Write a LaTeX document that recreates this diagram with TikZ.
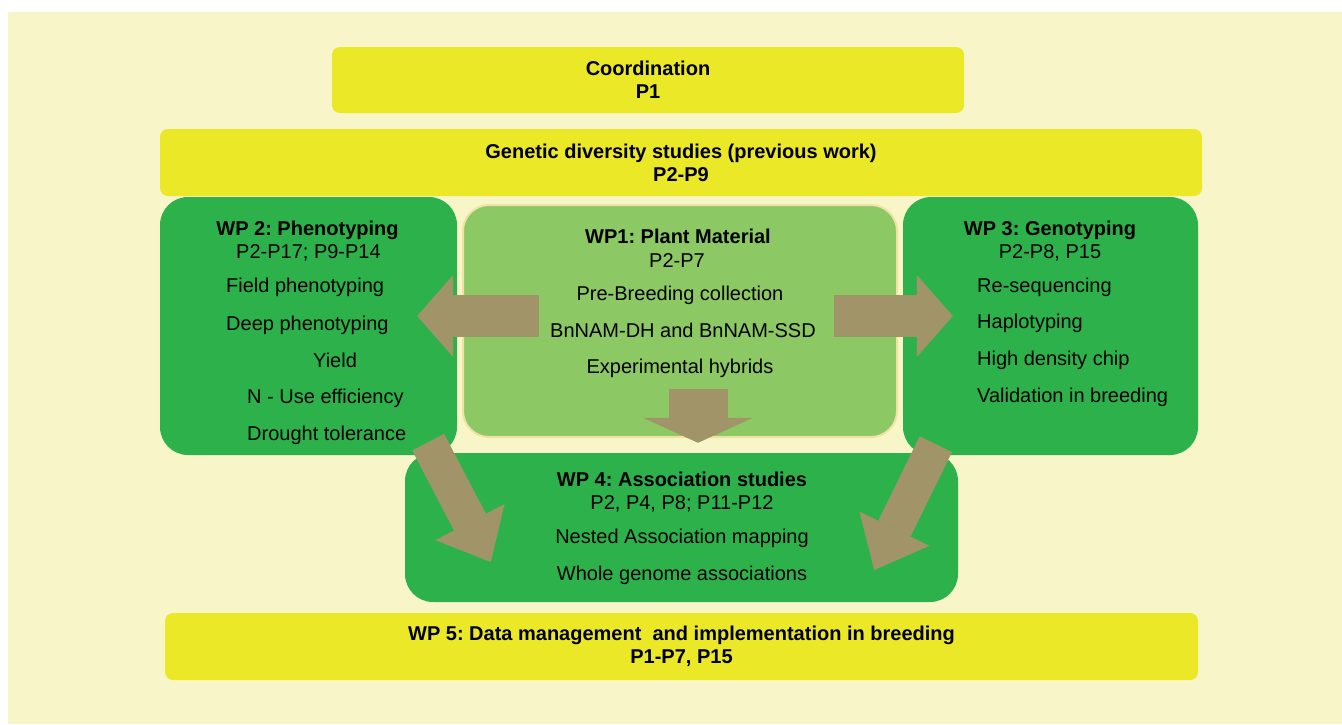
\documentclass[tikz,border=0pt]{standalone}
\usepackage{fontspec}
\setmainfont{Liberation Sans}
\usetikzlibrary{arrows.meta, positioning}
\definecolor{cream}{HTML}{F8F6C8}
\definecolor{wpyellow}{HTML}{EBE827}
\definecolor{wpgreen}{HTML}{2DB24B}
\definecolor{wplight}{HTML}{8CC864}
\definecolor{wpedge}{HTML}{F0E2A4}
\definecolor{khaki}{HTML}{A19469}
\newcommand{\wpsize}{\fontsize{20}{23}\selectfont}
\frenchspacing

\begin{document}
\begin{tikzpicture}[x=1pt, y=-1pt,
		ybox/.style={rectangle, fill=wpyellow, rounded corners=8pt, align=center,
			font=\wpsize\bfseries, inner sep=0pt},
		wpbox/.style={rectangle, fill=wpgreen, rounded corners=28pt, inner sep=0pt},
		matbox/.style={rectangle, fill=wplight, draw=wpedge, line width=2pt,
			rounded corners=26pt, inner sep=0pt},
		txt/.style={anchor=base, inner sep=0pt, font=\wpsize},
		hd/.style={txt, font=\wpsize\bfseries},
		item/.style={txt, anchor=base west},
		flow/.style n args={3}{draw=khaki, line width=#1,
			-{Triangle[width=#2, length=#3, line width=0pt]}}
	]
	\useasboundingbox (0,0) rectangle (1342,724);
	\fill[white] (0,0) rectangle (1342,724);
	\fill[cream] (8,12) rectangle (1342,724);

	\node[ybox, minimum width=632pt, minimum height=66pt] (coord) at (648,80) {Coordination\\P1};
	\node[ybox, minimum width=1042pt, minimum height=67pt] (gen) at (681,162.5)
		{Genetic diversity studies (previous work)\\P2-P9};
	\node[wpbox, minimum width=297pt, minimum height=258pt] (wp2) at (308.5,326) {};
	\node[wpbox, minimum width=295pt, minimum height=258pt] (wp3) at (1050.5,326) {};
	\node[wpbox, minimum width=553pt, minimum height=149pt] (wp4) at (681.5,527.5) {};
	\node[matbox, minimum width=434pt, minimum height=232pt] (wp1) at (680,321) {};
	\node[ybox, minimum width=1033pt, minimum height=67pt] (wp5) at (681.5,646.5)
		{WP 5: Data management\ \ and implementation in breeding\\P1-P7, P15};

	% WP 2
	\node[hd] (wp2t) at (307.5,235) {WP 2: Phenotyping};
	\node[txt] (wp2p) at (308.5,258) {P2-P17; P9-P14};
	\node[item] (field) at (226,292) {Field phenotyping};
	\node[item] (deep) at (226,330) {Deep phenotyping};
	\node[item] (yield) at (313,367) {Yield};
	\node[item] (nuse) at (247,403) {N - Use efficiency};
	\node[item] (drought) at (247,440) {Drought tolerance};

	% WP1
	\node[hd] (wp1t) at (678,243) {WP1: Plant Material};
	\node[txt] (wp1p) at (677,267) {P2-P7};
	\node[txt] (prebr) at (680,300) {Pre-Breeding collection};
	\node[txt] (bnnam) at (683,337) {BnNAM-DH and BnNAM-SSD};
	\node[txt] (hybr) at (680,373) {Experimental hybrids};

	% WP 3
	\node[hd] (wp3t) at (1050,235) {WP 3: Genotyping};
	\node[txt] (wp3p) at (1050,258) {P2-P8, P15};
	\node[item] (reseq) at (977,292) {Re-sequencing};
	\node[item] (haplo) at (977,328) {Haplotyping};
	\node[item] (chip) at (977,365) {High density chip};
	\node[item] (valid) at (977,402) {Validation in breeding};

	% WP 4
	\node[hd] (wp4t) at (682,486) {WP 4: Association studies};
	\node[txt] (wp4p) at (682,509) {P2, P4, P8; P11-P12};
	\node[txt] (nam) at (682,543) {Nested Association mapping};
	\node[txt] (whole) at (682,580) {Whole genome associations};

	% block arrows
	\draw[flow={42pt}{82pt}{36pt}] ([shift={(77,-5)}]wp1.west) -- ([shift={(-40,-10)}]wp2.east);
	\draw[flow={42pt}{82pt}{36pt}] ([shift={(-64,-5)}]wp1.east) -- ([shift={(50,-10)}]wp3.west);
	\draw[flow={59pt}{110pt}{25pt}] ([shift={(18,-49)}]wp1.south) -- ([shift={(16.5,-10)}]wp4.north);
	\draw[flow={36pt}{78pt}{45pt}] ([shift={(-29,-13)}]wp2.south east) -- ([shift={(86,34.5)}]wp4.west);
	\draw[flow={36pt}{78pt}{46pt}] ([shift={(33,-11)}]wp3.south west) -- ([shift={(-84,42.5)}]wp4.east);
\end{tikzpicture}
\end{document}
